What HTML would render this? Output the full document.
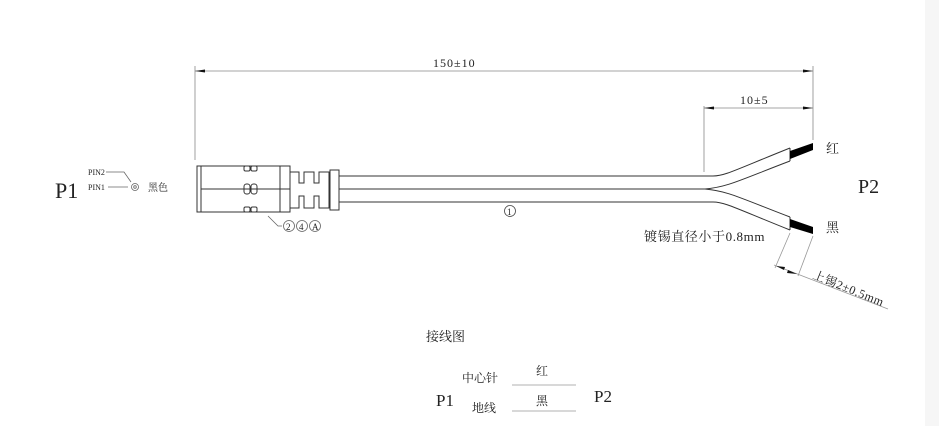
<!DOCTYPE html>
<html><head><meta charset="utf-8"><style>
html,body{margin:0;padding:0;background:#fff;}
svg text{font-family:"Liberation Serif","Noto Serif CJK SC",serif;fill:#222;}
</style></head><body>
<svg width="939" height="426" viewBox="0 0 939 426" xmlns="http://www.w3.org/2000/svg">
<rect width="939" height="426" fill="#fff"/>
<g stroke="#888" stroke-width="0.8" fill="none">
<line x1="195" y1="66" x2="195" y2="160"/>
<line x1="813" y1="66" x2="813" y2="140"/>
<line x1="195" y1="71" x2="813" y2="71"/>
<line x1="704" y1="106" x2="704" y2="172"/>
<line x1="704" y1="108" x2="813" y2="108"/>
</g>
<g fill="#111">
<polygon points="195,71 205,69.5 205,72.5"/>
<polygon points="813,71 803,69.5 803,72.5"/>
<polygon points="704,108 714,106.5 714,109.5"/>
<polygon points="813,108 803,106.5 803,109.5"/>
</g>
<text x="433" y="67" font-size="12" letter-spacing="1">150±10</text>
<text x="740" y="104" font-size="12" letter-spacing="1">10±5</text>

<g stroke="#333" stroke-width="1" fill="none">
<rect x="197" y="166" width="93" height="46"/>
<line x1="201" y1="166" x2="201" y2="212"/>
<line x1="280" y1="166" x2="280" y2="212"/>
<line x1="201" y1="189" x2="290" y2="189"/>
<rect x="244" y="166" width="6" height="5" rx="1.5"/>
<rect x="251" y="166" width="6" height="5" rx="1.5"/>
<rect x="244" y="184" width="6" height="10" rx="2.5"/>
<rect x="251" y="184" width="6" height="10" rx="2.5"/>
<rect x="244" y="207" width="6" height="5" rx="1.5"/>
<rect x="251" y="207" width="6" height="5" rx="1.5"/>
<path d="M290,172 H299 V183 H304 V172 H314 V183 H319 V172 H329 V208 H319 V196 H314 V208 H304 V196 H299 V208 H290"/>
<rect x="330" y="170" width="9" height="40"/>
<line x1="339" y1="176" x2="713" y2="176"/>
<line x1="339" y1="189" x2="705" y2="189"/>
<line x1="339" y1="202" x2="713" y2="202"/>
<path d="M713,176 C725,176 735,170 790,148"/>
<path d="M705,189 C728,187 740,180 790,161"/>
<path d="M705,189 C728,191 740,198 790,217"/>
<path d="M713,202 C725,202 735,208 790,230"/>
<line x1="790" y1="148" x2="790" y2="161"/>
<line x1="790" y1="217" x2="790" y2="230"/>
</g>
<polygon points="790,151 813,143 813,150 790,159" fill="#000"/>
<polygon points="790,219 813,227 813,234 790,227" fill="#000"/>
<text x="826" y="153" font-size="13">红</text>
<text x="826" y="232" font-size="13">黑</text>
<text x="858" y="193" font-size="20">P2</text>
<text x="644" y="241" font-size="13" letter-spacing="0.6">镀锡直径小于0.8mm</text>
<g stroke="#999" stroke-width="0.8" fill="none">
<line x1="790" y1="233" x2="775" y2="268"/>
<line x1="813" y1="236" x2="798" y2="276"/>
<line x1="774" y1="265" x2="888" y2="309"/>
</g>
<g fill="#111">
<polygon points="776,266 785,267 784,270"/>
<polygon points="797,274 788,270 787,273"/>
</g>
<text x="0" y="0" font-size="12" letter-spacing="0.6" transform="translate(812,278) rotate(22)">上锡2±0.5mm</text>
<circle cx="510" cy="211" r="5.5" fill="none" stroke="#444" stroke-width="0.8"/>
<text x="507" y="215" font-size="9">1</text>
<g stroke="#666" stroke-width="0.8" fill="none">
<path d="M268,216 L278,226 H282"/>
<circle cx="289" cy="226" r="5.5"/><circle cx="302" cy="226" r="5.5"/><circle cx="315" cy="226" r="5.5"/>
</g>
<text x="286" y="230" font-size="9">2</text><text x="299" y="230" font-size="9">4</text><text x="312" y="230" font-size="9">A</text>
<text x="55" y="198" font-size="22">P1</text>
<text x="88" y="175" font-size="8">PIN2</text>
<text x="88" y="190" font-size="8">PIN1</text>
<g stroke="#666" stroke-width="0.8" fill="none">
<path d="M106,172 H124 L131,182"/>
<line x1="108" y1="187" x2="128" y2="187"/>
<circle cx="135" cy="187" r="3.5"/><circle cx="135" cy="187" r="1.3"/>
</g>
<text x="148" y="191" font-size="10">黑色</text>
<text x="426" y="341" font-size="13">接线图</text>
<text x="462" y="382" font-size="12">中心针</text>
<text x="472" y="412" font-size="12">地线</text>
<text x="536" y="375" font-size="12">红</text>
<text x="536" y="405" font-size="12">黑</text>
<line x1="512" y1="385" x2="576" y2="385" stroke="#999" stroke-width="0.8"/>
<line x1="512" y1="411" x2="576" y2="411" stroke="#999" stroke-width="0.8"/>
<text x="436" y="406" font-size="17">P1</text>
<text x="594" y="402" font-size="17">P2</text>
<rect x="925" y="0" width="14" height="426" fill="#f6f6f6"/>
</svg>
</body></html>
